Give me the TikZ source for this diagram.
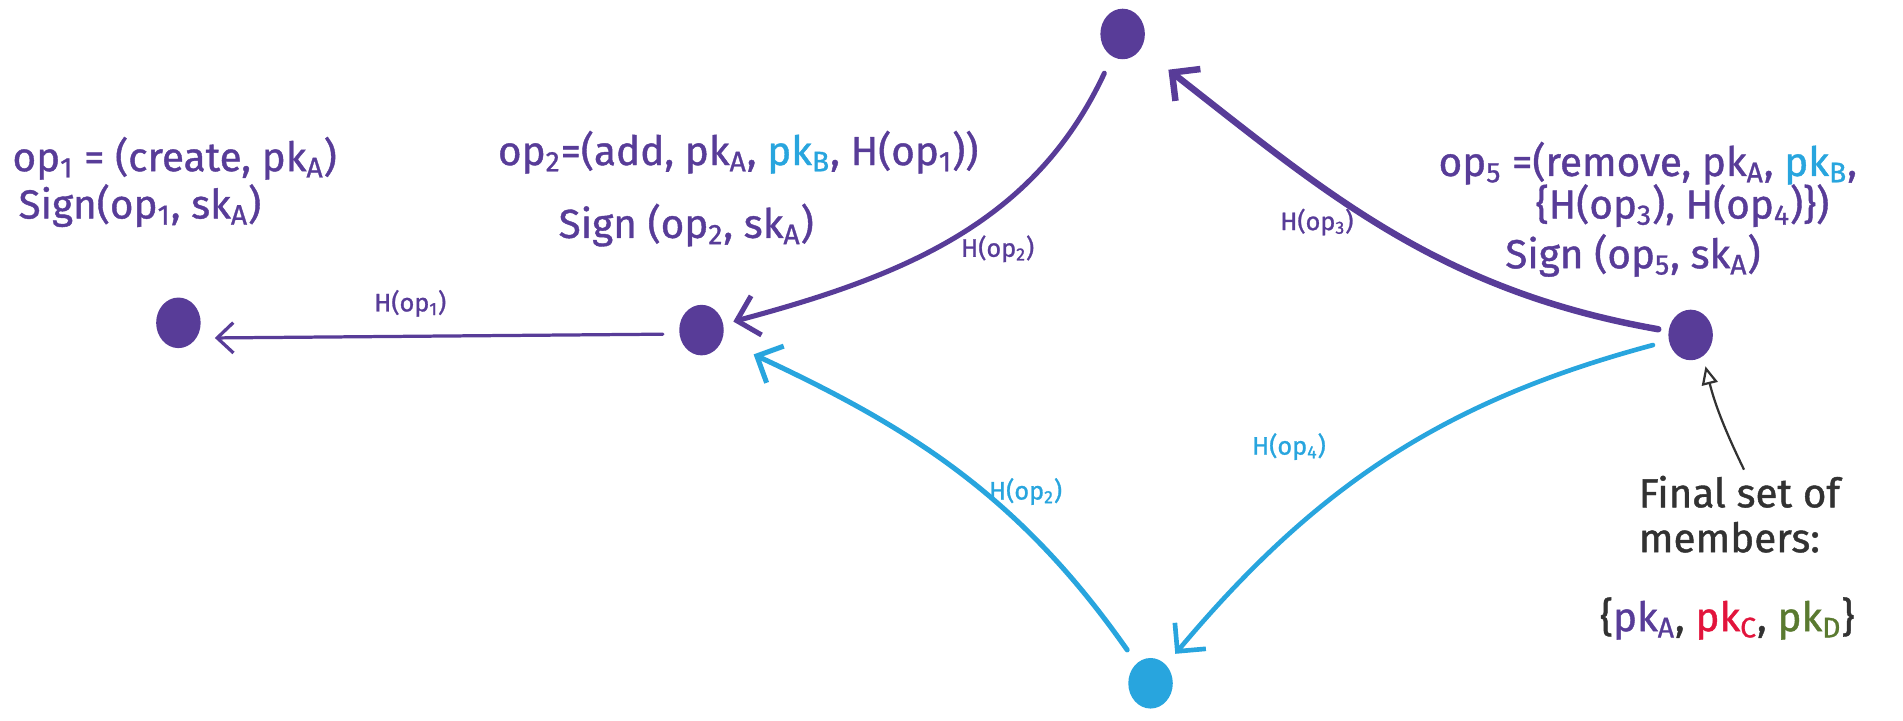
\documentclass[tikz,border=0pt]{standalone}
\usepackage{fontspec}
\setmainfont[FakeBold=1]{Fira Sans}
\usetikzlibrary{arrows.meta,shapes.geometric}
\definecolor{pur}{RGB}{88,60,152}
\definecolor{blu}{RGB}{40,165,222}
\definecolor{redc}{RGB}{226,20,60}
\definecolor{grn}{RGB}{90,122,48}
\definecolor{gry}{RGB}{50,50,50}
\newcommand\sbs[1]{\textsubscript{#1}}
\tikzset{
  dotp/.style={ellipse, fill=pur, minimum width=22pt, minimum height=25pt, inner sep=0pt},
  dotb/.style={dotp, fill=blu},
  txt/.style={anchor=base west, inner sep=0pt, font=\fontsize{20}{24}\selectfont},
  lbl/.style={inner sep=0pt, font=\fontsize{12.5}{14}\selectfont},
  barb/.style={-{Straight Barb[length=10pt,width=20pt]}, line cap=round},
  smallbarb/.style={-{Straight Barb[length=8pt,width=15pt]}, line cap=round},
  grayarr/.style={-{Triangle[open,length=9pt,width=8pt]}, draw=gry, line width=1.1pt},
}
\begin{document}
\begin{tikzpicture}[x=0.6pt,y=0.6pt]
\useasboundingbox (0,0) rectangle (1568,594);
% dots
\node[dotp] (d1) at (147,328) {};
\node[dotp] (d2) at (578,322) {};
\node[dotp] (dt) at (925,566) {};
\node[dotp] (d5) at (1393,318) {};
\node[dotb] (db) at (948,31) {};
% texts
\node[txt, text=pur] (t1a) at (10,453) {op\sbs{1} = (create, pk\sbs{A})};
\node[txt, text=pur] (t1b) at (15,414) {Sign(op\sbs{1}, sk\sbs{A})};
\node[txt, text=pur] (t2a) at (410,458) {op\sbs{2}=(add, pk\sbs{A}, \textcolor{blu}{pk\sbs{B}}, H(op\sbs{1}))};
\node[txt, text=pur] (t2b) at (460,398) {Sign (op\sbs{2}, sk\sbs{A})};
\node[txt, text=pur] (t5a) at (1185,449) {op\sbs{5} =(remove, pk\sbs{A}, \textcolor{blu}{pk\sbs{B}},};
\node[txt, text=pur] (t5b) at (1265,414) {\{H(op\sbs{3}), H(op\sbs{4})\})};
\node[txt, text=pur] (t5c) at (1240,373) {Sign (op\sbs{5}, sk\sbs{A})};
\node[txt, text=gry] (f1) at (1350,176) {Final set of};
\node[txt, text=gry] (f2) at (1350,139) {members:};
\node[txt, text=gry] (f3) at (1318,74) {\{\textcolor{pur}{pk\sbs{A}}, \textcolor{redc}{pk\sbs{C}}, \textcolor{grn}{pk\sbs{D}}\}};
% edge labels
\node[lbl, text=pur] (l1) at (338,344) {H(op\sbs{1})};
\node[lbl, text=pur] (l2) at (822,389) {H(op\sbs{2})};
\node[lbl, text=pur] (l3) at (1085,411) {H(op\sbs{3})};
\node[lbl, text=blu] (l4) at (845,189) {H(op\sbs{2})};
\node[lbl, text=blu] (l5) at (1062,226) {H(op\sbs{4})};
% connectors
\draw[smallbarb, draw=pur, line width=1.6pt, shorten <=8pt, shorten >=9pt] (d2.190) -- (d1.-40);
\draw[barb, draw=pur, line width=2.5pt, shorten <=9pt, shorten >=5pt] (dt) to[out=245,in=15] (d2);
\draw[barb, draw=pur, line width=3.2pt, shorten <=5pt, shorten >=17pt] (d5) to[out=170,in=-38] (dt);
\draw[barb, draw=blu, line width=2.5pt, shorten <=8pt, shorten >=17pt] (db) to[out=125,in=-25] (d2);
\draw[barb, draw=blu, line width=2.3pt, shorten <=8pt, shorten >=7pt] (d5) to[out=195,in=50] (db);
\coordinate (ga) at (1437,207);
\draw[grayarr, shorten >=5pt] (ga) to[bend left=6] (d5.-60);
\end{tikzpicture}
\end{document}
